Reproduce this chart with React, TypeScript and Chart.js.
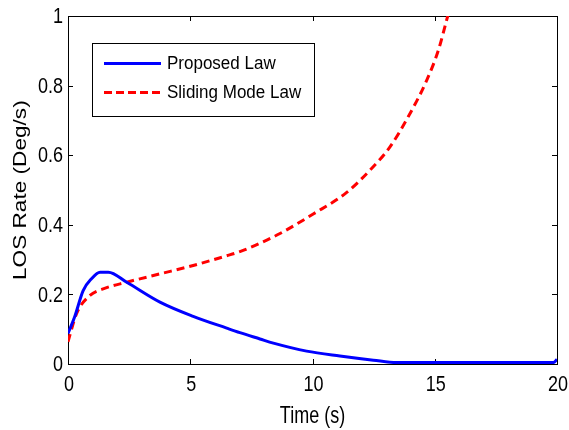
import React, { useEffect, useRef } from "react";
import { Chart, registerables } from "chart.js";

Chart.register(...registerables);

const xTicks = [0, 5, 10, 15, 20];
const yTicks = [0, 0.2, 0.4, 0.6, 0.8, 1];
const yTickLabels = ["0", "0.2", "0.4", "0.6", "0.8", "1"];

const proposedT = [0, 0.27, 0.62, 0.96, 1.31, 1.65, 2.4, 3.76, 5.12, 6.49, 7.03, 7.85, 8.4, 9.76, 11.12, 12.49, 13.44, 14, 19.85, 20];
const proposedY = [0.088, 0.135, 0.211, 0.245, 0.264, 0.264, 0.235, 0.178, 0.137, 0.103, 0.09, 0.072, 0.06, 0.037, 0.023, 0.011, 0.004, 0.004, 0.004, 0.013];

const slidingT = [0, 0.35, 0.9, 1.44, 2.4, 3.76, 5.12, 6.49, 7.03, 7.85, 8.67, 10.03, 11.4, 12.35, 13.17, 13.92, 14.67, 15.15, 15.53, 15.7];
const slidingY = [0.064, 0.145, 0.197, 0.216, 0.235, 0.259, 0.283, 0.311, 0.323, 0.347, 0.375, 0.431, 0.493, 0.557, 0.624, 0.711, 0.815, 0.902, 1.0, 1.045];

const seriesNames = ["Proposed Law", "Sliding Mode Law"];
const xTitle = "Time (s)";
const yTitle = "LOS Rate (Deg/s)";

const FONT = "Liberation Sans, Arial, sans-serif";

function drawText(
  ctx: CanvasRenderingContext2D,
  text: string,
  x: number,
  y: number,
  size: number,
  sy: number,
  align: CanvasTextAlign,
  baseline: CanvasTextBaseline,
  rotate = 0
) {
  ctx.save();
  ctx.translate(x, y);
  ctx.scale(1, sy);
  if (rotate) ctx.rotate(rotate);
  ctx.font = `${size}px ${FONT}`;
  ctx.fillStyle = "#000";
  ctx.textAlign = align;
  ctx.textBaseline = baseline;
  ctx.fillText(text, 0, 0);
  ctx.restore();
}

const framePlugin = {
  id: "frame",
  beforeDatasetsDraw(chart: any) {
    const { ctx, chartArea: a, scales } = chart;
    const xs = scales.x;
    const ys = scales.y;
    ctx.save();
    ctx.strokeStyle = "#000";
    ctx.lineWidth = 1;
    ctx.strokeRect(Math.round(a.left) + 0.5, Math.round(a.top) + 0.5, Math.round(a.right - a.left), Math.round(a.bottom - a.top));
    const tl = 5;
    ctx.beginPath();
    xTicks.forEach((v) => {
      const px = Math.round(xs.getPixelForValue(v)) + 0.5;
      ctx.moveTo(px, a.bottom);
      ctx.lineTo(px, a.bottom - tl);
      ctx.moveTo(px, a.top);
      ctx.lineTo(px, a.top + tl);
    });
    yTicks.forEach((v) => {
      const py = Math.round(ys.getPixelForValue(v)) + 0.5;
      ctx.moveTo(a.left, py);
      ctx.lineTo(a.left + tl, py);
      ctx.moveTo(a.right, py);
      ctx.lineTo(a.right - tl, py);
    });
    ctx.stroke();
    ctx.restore();

    // tick labels
    xTicks.forEach((v) => {
      const px = xs.getPixelForValue(v);
      drawText(ctx, String(v), px + 1, a.bottom + 21, 18, 1.25, "center", "middle");
    });
    yTicks.forEach((v, i) => {
      const py = ys.getPixelForValue(v);
      drawText(ctx, yTickLabels[i], a.left - 5, py + 1, 18, 1.25, "right", "middle");
    });
    // axis titles
    drawText(ctx, xTitle, (a.left + a.right) / 2, a.bottom + 59, 18, 1.3, "center", "alphabetic");
    drawText(ctx, yTitle, 26, 280, 19, 1.19, "left", "alphabetic", -Math.PI / 2);
  },
  afterDatasetsDraw(chart: any) {
    const { ctx } = chart;
    ctx.save();
    ctx.fillStyle = "#fff";
    ctx.fillRect(93, 44, 221, 72);
    ctx.strokeStyle = "#000";
    ctx.lineWidth = 1;
    ctx.strokeRect(92.5, 43.5, 222, 73);
    ctx.lineWidth = 3;
    ctx.strokeStyle = "#0000ff";
    ctx.beginPath();
    ctx.moveTo(104, 63.5);
    ctx.lineTo(161, 63.5);
    ctx.stroke();
    ctx.strokeStyle = "#ff0000";
    ctx.setLineDash([8, 4]);
    ctx.beginPath();
    ctx.moveTo(104, 92.5);
    ctx.lineTo(161, 92.5);
    ctx.stroke();
    ctx.restore();
    drawText(ctx, seriesNames[0], 167, 64, 17, 1.1, "left", "middle");
    drawText(ctx, seriesNames[1], 167, 93, 17, 1.1, "left", "middle");
  },
};

export default function App() {
  const ref = useRef<HTMLCanvasElement | null>(null);
  useEffect(() => {
    if (!ref.current) return;
    const chart = new Chart(ref.current, {
      type: "line",
      data: {
        datasets: [
          {
            label: seriesNames[0],
            data: proposedT.map((t, i) => ({ x: t, y: proposedY[i] })),
            borderColor: "#0000ff",
            borderWidth: 3,
            pointRadius: 0,
            cubicInterpolationMode: "monotone",
            fill: false,
          },
          {
            label: seriesNames[1],
            data: slidingT.map((t, i) => ({ x: t, y: slidingY[i] })),
            borderColor: "#ff0000",
            borderWidth: 3,
            borderDash: [8, 5],
            pointRadius: 0,
            cubicInterpolationMode: "monotone",
            fill: false,
          },
        ],
      },
      options: {
        responsive: false,
        animation: false,
        layout: { padding: { left: 0, right: 12, top: 16, bottom: 0 } },
        plugins: { legend: { display: false }, tooltip: { enabled: false } },
        scales: {
          x: {
            type: "linear",
            min: 0,
            max: 20,
            grid: { display: false },
            border: { display: false },
            ticks: { display: false },
            afterFit: (s: any) => {
              s.height = 66;
            },
          },
          y: {
            type: "linear",
            min: 0,
            max: 1,
            grid: { display: false },
            border: { display: false },
            ticks: { display: false },
            afterFit: (s: any) => {
              s.width = 68;
            },
          },
        },
      },
      plugins: [framePlugin],
    });
    return () => chart.destroy();
  }, []);
  return (
    <div style={{ position: "absolute", left: 0, top: 0, width: 569, height: 430, background: "#fff" }}>
      <canvas ref={ref} width={569} height={430} />
    </div>
  );
}
